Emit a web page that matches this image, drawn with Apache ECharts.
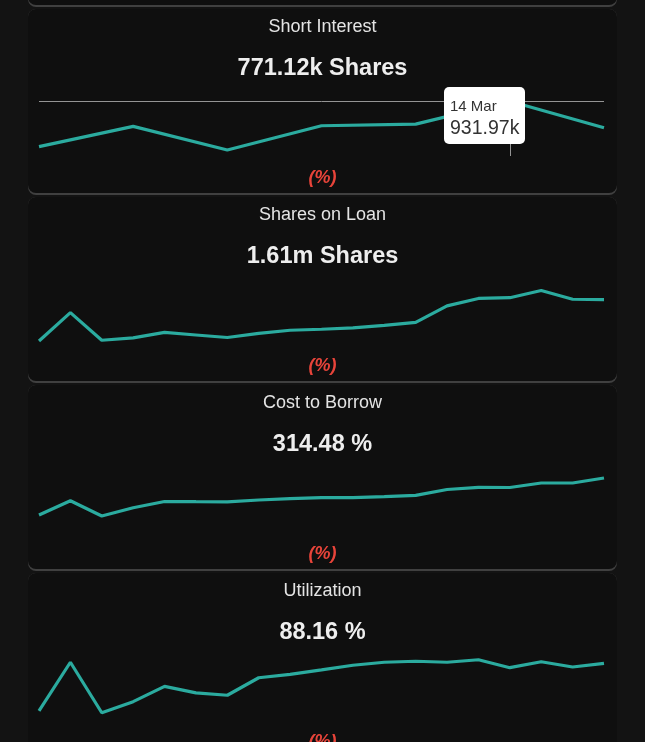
<!DOCTYPE html>
<html><head><meta charset="utf-8">
<script src="https://cdn.jsdelivr.net/npm/echarts@6/dist/echarts.min.js"></script>
<style>html,body{margin:0;padding:0;background:#131313;overflow:hidden}#c{width:645px;height:742px}</style>
</head><body><div id="c"></div><script>
// ---- data ----
const panelTitles = ['Short Interest', 'Shares on Loan', 'Cost to Borrow', 'Utilization'];
const panelValues = ['771.12k Shares', '1.61m Shares', '314.48 %', '88.16 %'];
const changeLabels = ['(%)', '(%)', '(%)', '(%)'];
const shortDates = ['27 Feb', '2 Mar', '5 Mar', '8 Mar', '11 Mar', '14 Mar', '17 Mar'];
const dailyDates = ['27 Feb', '28 Feb', '1 Mar', '2 Mar', '3 Mar', '4 Mar', '5 Mar', '6 Mar', '7 Mar', '8 Mar',
  '9 Mar', '10 Mar', '11 Mar', '12 Mar', '13 Mar', '14 Mar', '15 Mar', '16 Mar', '17 Mar'];
const shortInterest = [656.7, 779.6, 636.8, 783.2, 793.4, 931.97, 771.12]; // thousand shares
const sharesOnLoan = [1.234, 1.492, 1.241, 1.262, 1.312, 1.289, 1.266, 1.304, 1.332, 1.341, 1.353, 1.377, 1.404, 1.554, 1.621, 1.628, 1.693, 1.614, 1.61]; // million shares
const costToBorrow = [202.3, 245.6, 199.3, 224.4, 243.2, 242.6, 242.3, 247.8, 251.7, 254.7, 254.7, 257.8, 262.0, 279.6, 286.3, 285.6, 299.3, 299.3, 314.48]; // %
const utilization = [59.4, 88.8, 58.2, 64.9, 74.2, 70.2, 68.8, 79.4, 81.5, 84.2, 87.0, 88.8, 89.4, 88.8, 90.3, 85.5, 89.1, 85.9, 88.16]; // %

// ---- layout / config ----
const seriesData = [shortInterest, sharesOnLoan, costToBorrow, utilization];
const seriesCats = [shortDates, dailyDates, dailyDates, dailyDates];
const axisRanges = [[600, 1000], [1.207, 1.807], [150.8, 350.8], [53.8, 93.8]];
const STEP = 188;
const FONT = '"Liberation Sans", Arial, Helvetica, sans-serif';
const LINE = '#2bab9f';

const graphics = [];
for (let i = -1; i < 4; i++) {
  const o = STEP * i;
  graphics.push({type: 'rect', z: 0, shape: {x: 28, y: o + 9, width: 589, height: 186, r: 8}, style: {fill: '#404040'}});
  graphics.push({type: 'rect', z: 1, shape: {x: 28, y: o + 9, width: 589, height: 184, r: 8}, style: {fill: '#0f0f0f'}});
}
function txt(x, y, text, font, fill) {
  return {type: 'text', z: 5, x: x, y: y, style: {text: text, font: font, fill: fill,
    align: 'center', verticalAlign: 'middle', textAlign: 'center', textVerticalAlign: 'middle'}};
}
const grids = [], xAxes = [], yAxes = [], series = [];
for (let i = 0; i < 4; i++) {
  const o = STEP * i;
  graphics.push(txt(322.5, o + 27.5, panelTitles[i], '18px ' + FONT, '#e4e4e4'));
  graphics.push(txt(322.5, o + 68.5, panelValues[i], 'bold 23.5px ' + FONT, '#eeeeee'));
  graphics.push(txt(322.5, o + 178, changeLabels[i], 'italic bold 18px ' + FONT, '#e8443a'));
  grids.push({left: 39, right: 41, top: o + 90, height: 66});
  xAxes.push({type: 'category', gridIndex: i, data: seriesCats[i], boundaryGap: false, show: false,
    axisPointer: {label: {show: false}}});
  yAxes.push({type: 'value', gridIndex: i, min: axisRanges[i][0], max: axisRanges[i][1], show: false,
    splitLine: {show: false}, axisPointer: {label: {show: false}}});
  series.push({type: 'line', xAxisIndex: i, yAxisIndex: i, data: seriesData[i], showSymbol: false,
    symbolSize: 6, lineStyle: {color: LINE, width: 3.2}, itemStyle: {color: LINE}, emphasis: {disabled: true}});
}

const chart = echarts.init(document.getElementById('c'), null, {renderer: 'canvas'});
chart.setOption({
  animation: false,
  backgroundColor: '#131313',
  graphic: {elements: graphics},
  grid: grids,
  xAxis: xAxes,
  yAxis: yAxes,
  series: series,
  tooltip: {
    trigger: 'axis',
    alwaysShowContent: true,
    transitionDuration: 0,
    backgroundColor: '#ffffff',
    borderWidth: 0,
    padding: [9, 6, 6, 6],
    extraCssText: 'box-shadow:none;border-radius:5px;',
    axisPointer: {
      type: 'cross',
      label: {show: false},
      lineStyle: {color: '#949494', width: 1, type: 'solid'},
      crossStyle: {color: '#949494', width: 1, type: 'solid'}
    },
    position: function (pt) { return [pt[0] - 66, pt[1] - 14]; },
    formatter: function (params) {
      const p = params[0];
      return '<div style="font:15px/20px ' + FONT.replace(/"/g, "'") + ';color:#333">' + p.name + '</div>' +
        '<div style="font:19.5px/22px ' + FONT.replace(/"/g, "'") + ';color:#333">' + p.value.toFixed(2) + 'k</div>';
    }
  }
});
chart.dispatchAction({type: 'showTip', seriesIndex: 0, dataIndex: 5});
</script></body></html>
